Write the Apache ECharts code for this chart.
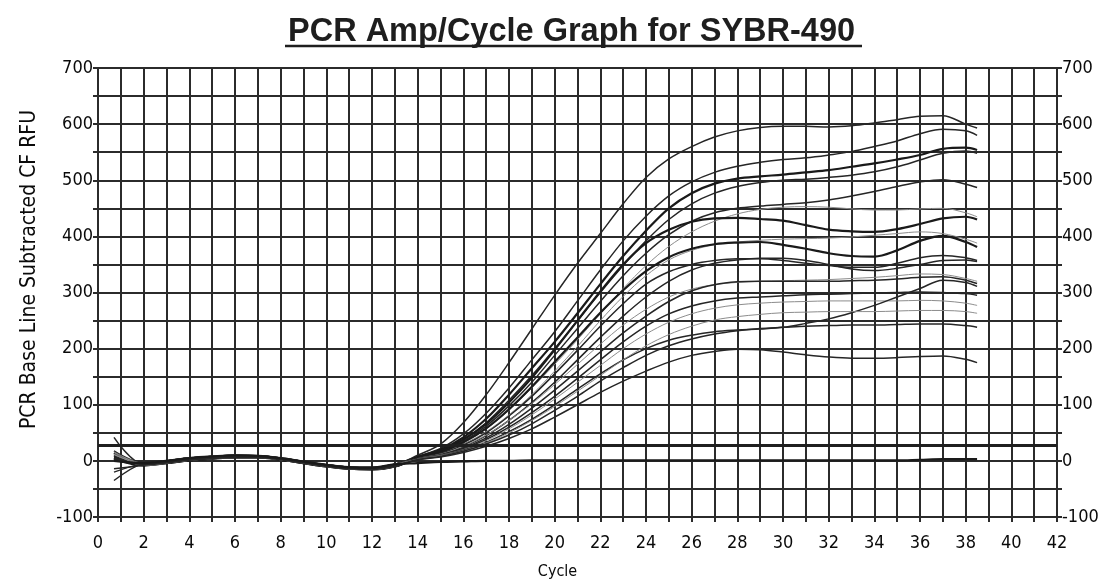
<!DOCTYPE html>
<html>
<head>
<meta charset="utf-8">
<script src="https://cdn.jsdelivr.net/npm/echarts@6/dist/echarts.min.js"></script>
<style>
html, body { margin: 0; padding: 0; background: #fff; }
#chart { width: 1108px; height: 581px; }
</style>
</head>
<body>
<div id="chart"></div>
<script>
// cycle positions shared by every well
const cycles = [0.7, 2, 3, 4, 5, 6, 7, 8, 9, 10, 11, 12, 13,
  14, 15, 16, 17, 18, 19, 20, 21, 22, 23, 24, 25, 26, 27, 28, 29, 30,
  31, 32, 33, 34, 35, 36, 37, 38, 38.5];

// baseline wobble, cycles 2..13 (three slightly different traces)
const baseline0 = [-6, -2, 3, 6, 8, 8, 4, -2, -8, -12, -14, -8];
const baseline1 = [-4, 0, 5, 8, 10, 9, 5, -1, -7, -11, -12, -6];
const baseline2 = [-8, -4, 1, 4, 6, 6, 2, -4, -10, -14, -15, -10];

// first reading (cycle ~0.7) per well
const startRFU = [42, 18, 14, 10, 8, 12, 6, 16, 4, 2, -20, 12, 9, -35, 15, 5, 11, -14, 3, 0];
const baselinePick = [0, 1, 2, 0, 1, 2, 0, 1, 2, 0, 1, 2, 0, 1, 2, 0, 1, 2, 0, 1];

// amplification, cycles 14..38 and 38.5
const wellA = [10, 30, 68, 118, 175, 235, 295, 352, 405, 458, 505, 538, 560, 577, 588, 594, 596, 596, 595, 597, 602, 608, 614, 615, 600, 593];
const wellB = [8, 22, 48, 85, 130, 180, 230, 285, 340, 392, 436, 472, 497, 514, 525, 532, 537, 540, 545, 551, 560, 570, 583, 591, 588, 580];
const wellC = [7, 20, 42, 75, 118, 165, 212, 263, 315, 365, 410, 450, 477, 494, 503, 507, 510, 514, 518, 524, 530, 537, 545, 556, 558, 554];
const wellD = [6, 18, 38, 68, 108, 152, 200, 250, 300, 348, 392, 430, 458, 477, 489, 496, 500, 502, 505, 509, 515, 524, 536, 548, 552, 548];
const wellE = [6, 17, 35, 62, 98, 140, 188, 236, 284, 330, 370, 403, 427, 442, 450, 454, 457, 460, 465, 472, 480, 489, 497, 501, 493, 487];
const wellF = [5, 15, 32, 57, 90, 130, 172, 216, 262, 307, 348, 382, 408, 427, 440, 448, 452, 453, 452, 449, 447, 447, 449, 450, 442, 435];
const wellG = [6, 18, 38, 66, 104, 148, 198, 250, 302, 350, 388, 412, 426, 432, 433, 431, 428, 420, 412, 409, 408, 413, 422, 432, 435, 430];
const wellS = [5, 14, 30, 52, 82, 118, 160, 204, 250, 293, 330, 358, 375, 385, 390, 393, 395, 396, 397, 399, 402, 405, 408, 405, 395, 388];
const wellH = [5, 15, 33, 58, 92, 132, 176, 220, 264, 304, 338, 363, 378, 386, 389, 390, 385, 378, 370, 365, 364, 375, 392, 401, 390, 381];
const wellI = [4, 13, 28, 50, 80, 115, 155, 197, 240, 280, 315, 337, 350, 357, 360, 360, 357, 352, 348, 345, 345, 352, 362, 366, 362, 357];
const wellJ = [4, 12, 25, 45, 72, 104, 140, 180, 220, 258, 292, 320, 340, 352, 358, 361, 361, 357, 350, 342, 339, 343, 350, 357, 358, 355];
const wellR = [4, 12, 26, 46, 72, 102, 136, 172, 208, 242, 270, 292, 306, 314, 318, 320, 321, 322, 323, 325, 327, 330, 333, 332, 325, 320];
const wellK = [4, 11, 23, 41, 65, 94, 126, 160, 194, 228, 258, 284, 303, 314, 319, 320, 320, 320, 320, 321, 322, 324, 327, 328, 322, 316];
const wellM = [3, 10, 21, 38, 60, 86, 115, 147, 180, 212, 240, 262, 276, 285, 290, 292, 294, 296, 297, 298, 299, 300, 301, 300, 298, 295];
const wellN = [3, 10, 20, 36, 57, 82, 110, 140, 170, 200, 226, 247, 262, 272, 278, 281, 283, 284, 285, 285, 285, 285, 286, 285, 281, 277];
const wellL = [3, 9, 19, 33, 52, 74, 100, 128, 155, 180, 200, 215, 224, 230, 233, 235, 238, 245, 253, 264, 277, 292, 307, 322, 318, 311];
const wellO = [3, 9, 18, 32, 50, 72, 97, 124, 152, 180, 205, 225, 240, 251, 257, 261, 264, 265, 266, 266, 266, 267, 268, 268, 266, 263];
const wellP = [2, 8, 17, 30, 46, 66, 90, 115, 142, 166, 188, 205, 217, 226, 232, 236, 238, 240, 241, 242, 242, 243, 244, 244, 241, 238];
const wellQ = [2, 7, 15, 26, 40, 57, 78, 100, 122, 142, 160, 176, 188, 195, 199, 198, 194, 189, 185, 183, 183, 184, 186, 187, 181, 175];
const wellNTC = [-4, -2, -1, 0, 0, 1, 1, 1, 1, 1, 1, 1, 1, 1, 1, 1, 1, 1, 1, 1, 1, 1, 2, 3, 3, 3];

const wells = [wellA, wellB, wellC, wellD, wellE, wellF, wellG, wellS, wellH, wellI,
  wellJ, wellR, wellK, wellM, wellN, wellL, wellO, wellP, wellQ, wellNTC];
const wellNames = ['A', 'B', 'C', 'D', 'E', 'F', 'G', 'S', 'H', 'I',
  'J', 'R', 'K', 'M', 'N', 'L', 'O', 'P', 'Q', 'NTC'];
// 0 = normal, 1 = heavy, 2 = faint
const wellStyle = [0, 0, 1, 0, 0, 2, 1, 2, 1, 0, 0, 2, 0, 0, 2, 0, 2, 0, 0, 1];

const threshold = 27;
const baselines = [baseline0, baseline1, baseline2];

const lineLooks = [
  { color: '#262626', width: 1.5 },
  { color: '#1a1a1a', width: 2.2 },
  { color: '#8c8c8c', width: 1 }
];

const gridColor = '#2b2b2b';
const font = "'DejaVu Sans Condensed', 'DejaVu Sans', sans-serif";

const series = wells.map((tail, i) => {
  const vals = [startRFU[i]].concat(baselines[baselinePick[i]], tail);
  const look = lineLooks[wellStyle[i]];
  return {
    name: wellNames[i],
    type: 'line',
    smooth: 0.35,
    showSymbol: false,
    silent: true,
    data: vals.map((v, k) => [cycles[k], v]),
    lineStyle: { color: look.color, width: look.width },
    z: 3
  };
});

// threshold line
series.push({
  type: 'line',
  data: [],
  markLine: {
    silent: true,
    symbol: 'none',
    label: { show: false },
    lineStyle: { color: '#1f1f1f', width: 3, type: 'solid' },
    data: [{ yAxis: threshold }]
  }
});

const yAxisBase = {
  type: 'value',
  min: -100,
  max: 700,
  interval: 100,
  axisLine: { show: true, lineStyle: { color: gridColor, width: 2 } },
  axisTick: { show: true, length: 5, lineStyle: { color: gridColor, width: 2 } },
  minorTick: { show: true, splitNumber: 2, length: 5, lineStyle: { color: gridColor, width: 2 } },
  splitLine: { show: true, lineStyle: { color: gridColor, width: 2 } },
  minorSplitLine: { show: true, lineStyle: { color: gridColor, width: 2 } },
  axisLabel: { color: '#0a0a0a', fontFamily: font, fontSize: 18, margin: 5 }
};

const chart = echarts.init(document.getElementById('chart'), null, { renderer: 'canvas' });
chart.setOption({
  backgroundColor: '#fff',
  animation: false,
  title: {
    text: 'PCR Amp/Cycle Graph for SYBR-490',
    left: 283,
    top: 11,
    textStyle: { fontFamily: 'Liberation Sans', fontWeight: 'bold', fontSize: 32.5, color: '#1e1e1e' }
  },
  graphic: [{
    type: 'line',
    shape: { x1: 285, y1: 46, x2: 862, y2: 46 },
    style: { stroke: '#1e1e1e', lineWidth: 2.5 }
  }],
  grid: { left: 98, right: 51, top: 68, bottom: 64, outerBoundsMode: 'none', containLabel: false },
  xAxis: {
    type: 'value',
    min: 0,
    max: 42,
    interval: 2,
    name: 'Cycle',
    nameLocation: 'middle',
    nameGap: 47,
    nameTextStyle: { color: '#0a0a0a', fontFamily: font, fontSize: 16, padding: [0, 40, 0, 0] },
    axisLine: { show: true, onZero: false, lineStyle: { color: gridColor, width: 2 } },
    axisTick: { show: true, length: 5, lineStyle: { color: gridColor, width: 2 } },
    minorTick: { show: true, splitNumber: 2, length: 5, lineStyle: { color: gridColor, width: 2 } },
    splitLine: { show: true, lineStyle: { color: gridColor, width: 2 } },
    minorSplitLine: { show: true, lineStyle: { color: gridColor, width: 2 } },
    axisLabel: { color: '#0a0a0a', fontFamily: font, fontSize: 18, margin: 17 }
  },
  yAxis: [
    Object.assign({}, yAxisBase, {
      position: 'left',
      name: 'PCR Base Line Subtracted CF RFU',
      nameLocation: 'middle',
      nameGap: 58,
      nameTextStyle: { color: '#0a0a0a', fontFamily: font, fontSize: 21, padding: [0, 0, 0, 46] }
    }),
    Object.assign({}, yAxisBase, {
      position: 'right',
      splitLine: { show: false },
      minorSplitLine: { show: false }
    })
  ],
  series: series
});
</script>
</body>
</html>
